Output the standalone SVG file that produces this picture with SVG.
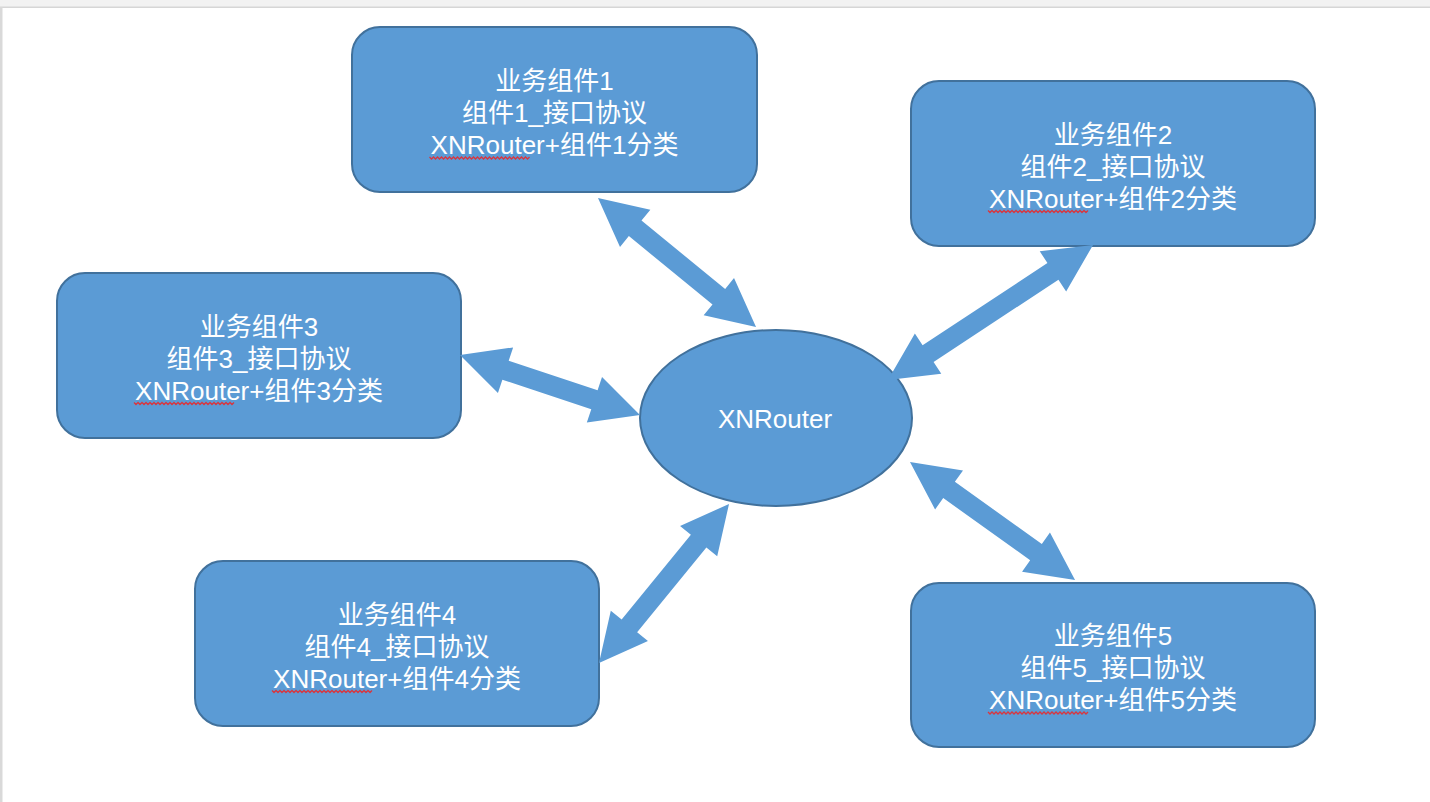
<svg xmlns="http://www.w3.org/2000/svg" xmlns:xlink="http://www.w3.org/1999/xlink" width="1430" height="802" viewBox="0 0 1430 802">
  <style>
    .box { fill: #5b9bd5; stroke: #41719c; stroke-width: 2; }
    .lbl { fill: #ffffff; font-family: "Liberation Sans", "Noto Sans CJK SC", sans-serif; font-size: 26px; text-anchor: middle; }
    .arrow { fill: #5b9bd5; }
    .squig { fill: none; stroke: #d9363e; stroke-width: 1.3; }
  </style>
  <defs>
    <path id="squiggle" d="M0 0 l2 2 2 -2 2 2 2 -2 2 2 2 -2 2 2 2 -2 2 2 2 -2 2 2 2 -2 2 2 2 -2 2 2 2 -2 2 2 2 -2 2 2 2 -2 2 2 2 -2 2 2 2 -2 2 2 2 -2 2 2 2 -2 2 2 2 -2 2 2 2 -2 2 2 2 -2 2 2 2 -2 2 2 2 -2 2 2 2 -2 2 2 2 -2 2 2 2 -2 2 2 2 -2 2 2 2 -2 2 2 2 -2"/>
  </defs>

  <rect x="0" y="0" width="1430" height="802" fill="#ffffff"/>
  <rect x="0" y="0" width="1430" height="7" fill="#f2f2f2"/>
  <rect x="0" y="6.5" width="1430" height="1.5" fill="#d6d6d6"/>
  <rect x="0" y="7" width="2.5" height="795" fill="#d9d9d9"/>

  <g id="router">
    <ellipse class="box" cx="776" cy="418" rx="136" ry="88"/>
    <text class="lbl" x="775" y="428">XNRouter</text>
  </g>

  <g id="comp1">
    <rect class="box" x="352" y="27" width="405" height="165" rx="28" ry="28"/>
    <text class="lbl" x="554.5" y="90">业务组件1</text>
    <text class="lbl" x="554.5" y="122">组件1_接口协议</text>
    <text class="lbl" x="554.5" y="154">XNRouter+组件1分类</text>
    <use href="#squiggle" class="squig" x="429.5" y="157"/>
  </g>

  <g id="comp2">
    <rect class="box" x="911" y="81" width="404" height="165" rx="28" ry="28"/>
    <text class="lbl" x="1113" y="143.5">业务组件2</text>
    <text class="lbl" x="1113" y="175.5">组件2_接口协议</text>
    <text class="lbl" x="1113" y="207.5">XNRouter+组件2分类</text>
    <use href="#squiggle" class="squig" x="988" y="210.5"/>
  </g>

  <g id="comp3">
    <rect class="box" x="57" y="273" width="404" height="165" rx="28" ry="28"/>
    <text class="lbl" x="259" y="335.5">业务组件3</text>
    <text class="lbl" x="259" y="367.5">组件3_接口协议</text>
    <text class="lbl" x="259" y="399.5">XNRouter+组件3分类</text>
    <use href="#squiggle" class="squig" x="134" y="402.5"/>
  </g>

  <g id="comp4">
    <rect class="box" x="195" y="561" width="404" height="165" rx="28" ry="28"/>
    <text class="lbl" x="397" y="623.5">业务组件4</text>
    <text class="lbl" x="397" y="655.5">组件4_接口协议</text>
    <text class="lbl" x="397" y="687.5">XNRouter+组件4分类</text>
    <use href="#squiggle" class="squig" x="272" y="690.5"/>
  </g>

  <g id="comp5">
    <rect class="box" x="911" y="583" width="404" height="164" rx="28" ry="28"/>
    <text class="lbl" x="1113" y="645">业务组件5</text>
    <text class="lbl" x="1113" y="677">组件5_接口协议</text>
    <text class="lbl" x="1113" y="709">XNRouter+组件5分类</text>
    <use href="#squiggle" class="squig" x="988" y="712"/>
  </g>

  <g id="connectors">
    <polygon class="arrow" transform="translate(598,198) rotate(39.23)" points="0,0 48,-24 48,-10 156,-10 156,-24 204,0 156,24 156,10 48,10 48,24"/>
    <polygon class="arrow" transform="translate(888,380) rotate(-33.37)" points="0,0 48,-24 48,-10 197.5,-10 197.5,-24 245.5,0 197.5,24 197.5,10 48,10 48,24"/>
    <polygon class="arrow" transform="translate(460,355) rotate(18.43)" points="0,0 48,-24 48,-10 141.7,-10 141.7,-24 189.7,0 141.7,24 141.7,10 48,10 48,24"/>
    <polygon class="arrow" transform="translate(599,663) rotate(-50.73)" points="0,0 48,-24 48,-10 157.4,-10 157.4,-24 205.4,0 157.4,24 157.4,10 48,10 48,24"/>
    <polygon class="arrow" transform="translate(910,462) rotate(35.57)" points="0,0 48,-24 48,-10 154.9,-10 154.9,-24 202.9,0 154.9,24 154.9,10 48,10 48,24"/>
  </g>
</svg>
